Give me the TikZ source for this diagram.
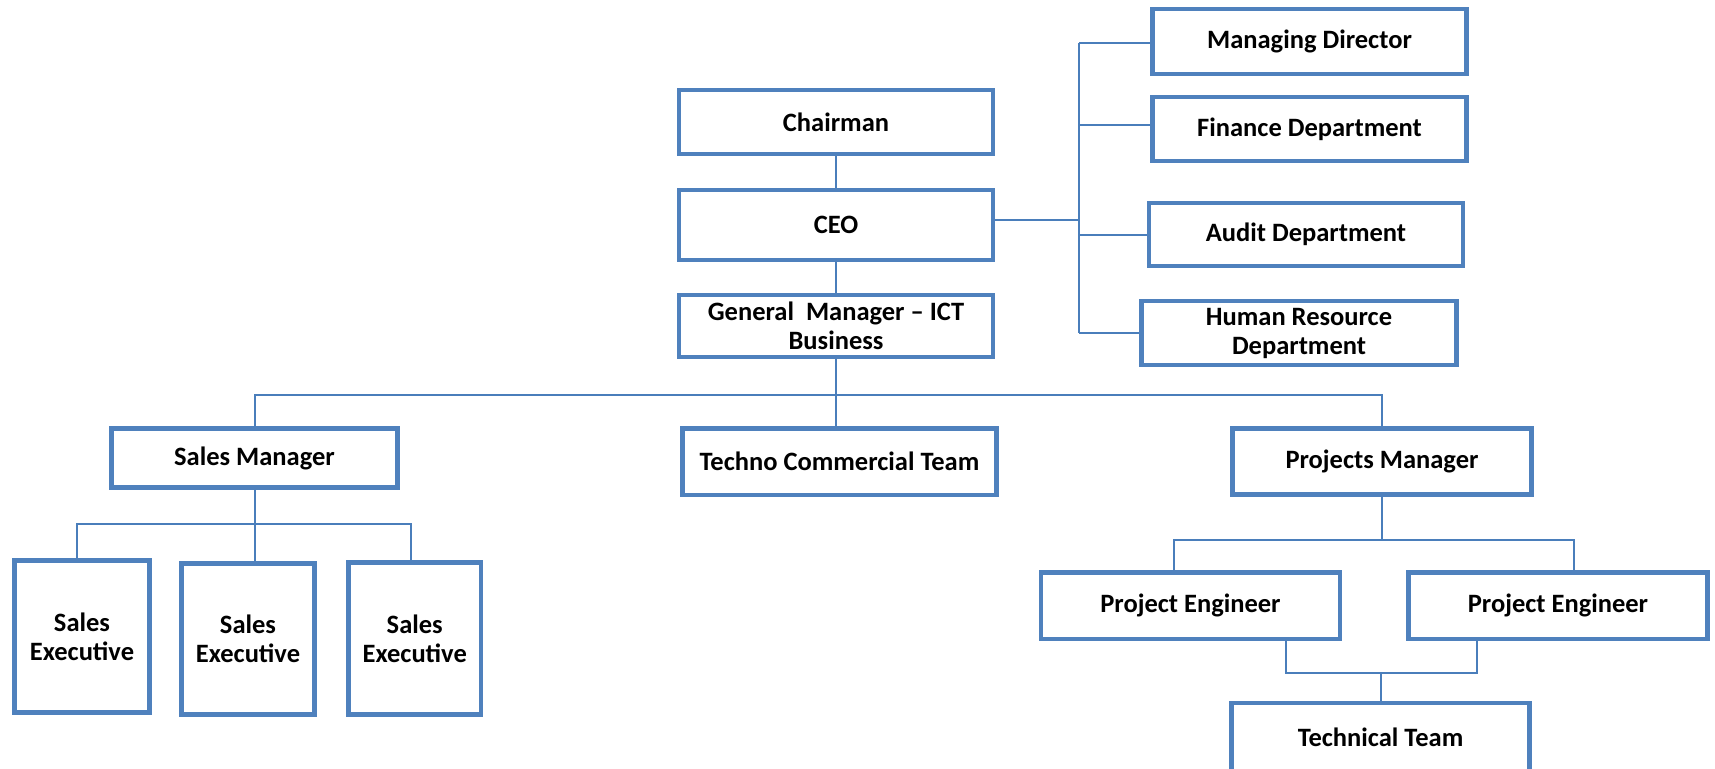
\documentclass[tikz,border=0pt]{standalone}
\usepackage{fontspec}
\setmainfont{Carlito}
\definecolor{orgblue}{HTML}{4F81BD}
\definecolor{lineblue}{HTML}{4A7EBB}
\tikzset{
  unit/.style={draw=orgblue, line width=4.6pt, fill=white, align=center, inner sep=0pt,
    font=\bfseries\fontsize{26.5}{29}\selectfont},
  link/.style={draw=lineblue, line width=2pt}
}
\begin{document}
\begin{tikzpicture}[x=1pt,y=-1pt]
\useasboundingbox (0,0) rectangle (1715,768);
\clip (0,0) rectangle (1715,768);
\node[unit, minimum width=314pt, minimum height=64pt] (chair) at (836,122) {Chairman};
\node[unit, minimum width=314pt, minimum height=70pt] (ceo) at (836,225) {CEO};
\node[unit, minimum width=314pt, minimum height=62pt] (gm) at (836,326) {General~~Manager – ICT\\Business};
\node[unit, minimum width=314pt, minimum height=65pt] (md) at (1309.5,41.5) {Managing Director};
\node[unit, minimum width=314pt, minimum height=64pt] (fin) at (1309.5,129) {Finance Department};
\node[unit, minimum width=314pt, minimum height=63pt] (audit) at (1306,234.5) {Audit Department};
\node[unit, minimum width=315pt, minimum height=64pt] (hr) at (1299,333) {Human Resource\\Department};
\node[unit, minimum width=286pt, minimum height=59pt] (sm) at (254.5,458) {Sales Manager};
\node[unit, minimum width=314pt, minimum height=66.5pt] (tct) at (839.5,461.75) {Techno Commercial Team};
\node[unit, minimum width=299pt, minimum height=66pt] (pm) at (1382,461.5) {Projects Manager};
\node[unit, minimum width=135pt, minimum height=152pt] (se1) at (82,636.5) {Sales\\Executive};
\node[unit, minimum width=132.5pt, minimum height=151.5pt] (se2) at (248,639) {Sales\\Executive};
\node[unit, minimum width=132.5pt, minimum height=152pt] (se3) at (414.75,638.5) {Sales\\Executive};
\node[unit, minimum width=299pt, minimum height=66.5pt] (pe1) at (1190.5,605.75) {Project Engineer};
\node[unit, minimum width=298.5pt, minimum height=66.5pt] (pe2) at (1558,605.75) {Project Engineer};
\node[unit, minimum width=298pt, minimum height=69pt] (tt) at (1380.5,737.5) {Technical Team};
\coordinate (bus) at (1079,0);
\coordinate (hbus) at (0,395);
\coordinate (sj1) at (77,524);
\coordinate (sj3) at (410.6,524);
\coordinate (pj1) at (1174,540);
\coordinate (pj2) at (1574,540);
\coordinate (tj1) at (1286,673);
\coordinate (tj2) at (1476.5,673);
\draw[link] (chair.south) -- (ceo.north);
\draw[link] (ceo.south) -- (gm.north);
\draw[link] ([yshift=5pt]ceo.east) -- ([yshift=5pt]ceo.east -| bus);
\draw[link] ([yshift=-2pt]bus |- md.west) -- (bus |- hr.west);
\draw[link] ([yshift=-2pt]bus |- md.west) -- ([yshift=-2pt]md.west);
\draw[link] ([yshift=4pt]bus |- fin.west) -- ([yshift=4pt]fin.west);
\foreach \d in {audit,hr}
  \draw[link] (bus |- \d.west) -- (\d.west);
\draw[link] (gm.south) -- (gm.south |- tct.north);
\draw[link] (sm.north) -- (sm.north |- hbus) -- (pm.north |- hbus) -- (pm.north);
\draw[link] (sm.south) -- (sm.south |- se2.north);
\draw[link] (sj1 |- se1.north) -- (sj1) -- (sj3) -- (sj3 |- se3.north);
\draw[link] (pm.south) -- (pm.south |- pj1);
\draw[link] (pj1 |- pe1.north) -- (pj1) -- (pj2) -- (pj2 |- pe2.north);
\draw[link] (tj1 |- pe1.south) -- (tj1) -- (tj2) -- (tj2 |- pe2.south);
\draw[link] (tt.north) -- (tt.north |- tj1);
\end{tikzpicture}
\end{document}
